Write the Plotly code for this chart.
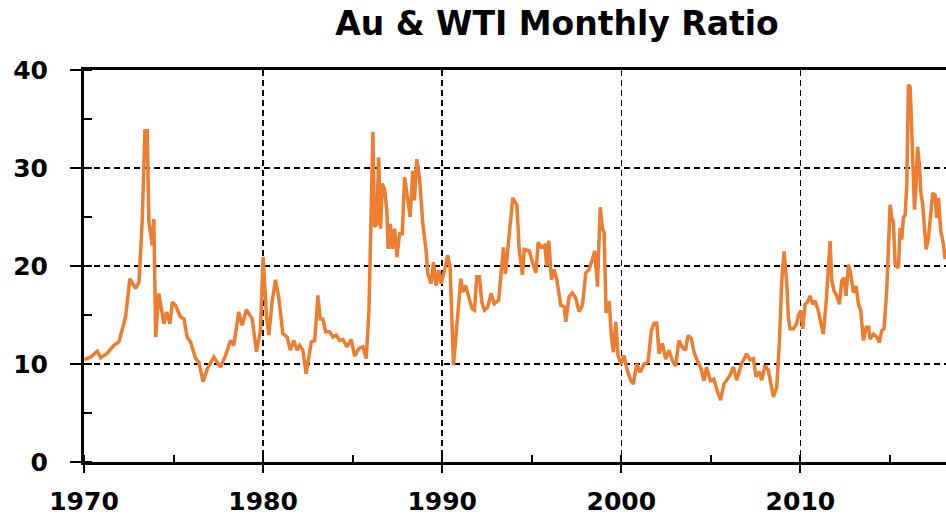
import plotly.graph_objects as go

# Decimal year and Au/WTI ratio
years = [
    1970.0, 1970.37, 1970.74, 1970.93, 1971.3, 1971.67, 1971.95, 1972.14, 1972.32, 1972.56,
    1972.88, 1973.07, 1973.25, 1973.4, 1973.53, 1973.62, 1973.81, 1973.9, 1974.0, 1974.18,
    1974.46, 1974.61, 1974.8, 1974.93, 1975.11, 1975.39, 1975.58, 1975.76, 1975.95, 1976.23,
    1976.41, 1976.65, 1976.88, 1977.25, 1977.62, 1977.9, 1978.18, 1978.36, 1978.64, 1978.83,
    1979.07, 1979.39, 1979.63, 1979.85, 1980.0, 1980.19, 1980.32, 1980.5, 1980.69, 1980.87,
    1981.1, 1981.34, 1981.52, 1981.71, 1981.9,
    1982.04, 1982.22, 1982.4, 1982.69, 1982.88, 1983.06, 1983.19, 1983.34, 1983.49, 1983.71,
    1983.9, 1984.08, 1984.27, 1984.46, 1984.68, 1984.92, 1985.11, 1985.35, 1985.57, 1985.76,
    1985.91, 1986.02, 1986.13, 1986.22, 1986.35, 1986.45, 1986.56, 1986.65, 1986.78, 1986.91,
    1986.98, 1987.1, 1987.21, 1987.34, 1987.47, 1987.62, 1987.77, 1987.9, 1988.03, 1988.21,
    1988.36, 1988.45, 1988.58, 1988.73, 1988.92, 1989.1, 1989.2, 1989.38, 1989.51, 1989.66,
    1989.81, 1989.94, 1990.13, 1990.31, 1990.44, 1990.55, 1990.63, 1990.78, 1990.93, 1991.04,
    1991.15, 1991.3, 1991.48, 1991.67, 1991.8, 1991.93, 1992.08, 1992.21, 1992.36, 1992.54,
    1992.73, 1992.91, 1993.15, 1993.29, 1993.42, 1993.53, 1993.66, 1993.79, 1993.94,
    1994.02, 1994.17, 1994.3, 1994.48, 1994.58, 1994.86, 1995.04, 1995.23, 1995.36, 1995.54,
    1995.73, 1995.84, 1995.95, 1996.1, 1996.25, 1996.4, 1996.62, 1996.81, 1996.9, 1997.09,
    1997.27, 1997.46, 1997.64, 1997.83, 1998.02, 1998.2, 1998.39, 1998.52, 1998.67, 1998.82,
    1998.95, 1999.04, 1999.15, 1999.32, 1999.45, 1999.56, 1999.69, 1999.82, 1999.97, 2000.15,
    2000.34, 2000.53, 2000.67, 2000.86, 2001.05, 2001.27, 2001.49, 2001.68, 2001.83, 2001.98,
    2002.11, 2002.29, 2002.48, 2002.66, 2002.85, 2003.03, 2003.22, 2003.41, 2003.59, 2003.72,
    2003.91, 2004.06, 2004.24, 2004.43, 2004.61, 2004.76, 2004.98, 2005.17, 2005.36, 2005.54,
    2005.73, 2005.9,
    2006.07, 2006.26, 2006.44, 2006.72, 2007.0, 2007.19, 2007.37, 2007.52, 2007.71, 2007.84,
    2008.03, 2008.21, 2008.4, 2008.49, 2008.68, 2008.83, 2008.96, 2009.09, 2009.24, 2009.33,
    2009.42, 2009.61, 2009.79, 2009.89, 2010.02, 2010.13, 2010.26, 2010.39, 2010.54, 2010.69,
    2010.82, 2011.0, 2011.13, 2011.28, 2011.43, 2011.56, 2011.66, 2011.75, 2011.88, 2012.03,
    2012.18, 2012.31, 2012.44, 2012.55, 2012.68, 2012.81, 2012.96, 2013.11, 2013.24, 2013.37,
    2013.52, 2013.67, 2013.8, 2013.89, 2014.08, 2014.26, 2014.41, 2014.54, 2014.67, 2014.82,
    2014.92, 2015.01, 2015.1, 2015.19, 2015.29, 2015.47, 2015.57, 2015.66, 2015.75, 2015.85,
    2015.94, 2016.03, 2016.13, 2016.22, 2016.31, 2016.37, 2016.46, 2016.54, 2016.65, 2016.72,
    2016.83, 2016.91, 2017.02, 2017.15, 2017.28, 2017.39, 2017.52, 2017.61, 2017.71, 2017.84,
    2017.99, 2018.08,
]

ratio = [
    10.45, 10.7, 11.3, 10.65, 11.1, 11.9, 12.25, 13.6, 14.8, 18.7,
    17.7, 18.35, 24.6, 33.8, 33.8, 24.6, 22.1, 24.8, 12.75, 17.2,
    14.1, 15.3, 14.1, 16.3, 16.0, 14.8, 14.6, 12.75, 12.25, 10.55,
    10.2, 8.2, 9.5, 10.7, 9.7, 10.85, 12.4, 11.9, 15.3, 13.95,
    15.55, 14.6, 11.25, 13.45, 20.9, 14.8, 12.95, 16.3, 18.6, 16.85,
    13.1, 12.75, 11.4, 12.4, 11.4,
    11.9, 11.4, 9.0, 12.25, 12.4, 17.0, 14.6, 14.6, 13.3, 13.3,
    12.75, 12.95, 12.4, 12.5, 11.75, 12.5, 10.8, 11.6, 11.75, 10.55,
    15.5, 24.6, 33.7, 24.0, 24.3, 31.1, 23.8, 28.4, 27.85, 25.65,
    21.75, 24.3, 21.75, 23.8, 20.9, 23.3, 23.3, 29.05, 27.5, 25.0,
    29.7, 26.7, 30.9, 29.05, 24.3, 21.6, 19.2, 18.2, 20.4, 18.0,
    19.55, 18.2, 19.55, 21.1, 19.9, 14.45, 9.9, 13.1, 16.85, 18.7,
    17.35, 18.0, 16.85, 15.65, 15.5, 18.9, 18.9, 16.3, 15.5, 15.8,
    17.2, 16.15, 16.5, 19.2, 21.9, 19.2, 21.6, 24.6, 26.95,
    26.7, 26.2, 21.7, 19.1, 21.7, 21.55, 20.35, 19.3, 22.4, 21.9,
    22.1, 20.0, 22.6, 18.6, 19.65, 18.6, 16.0, 15.85, 14.3, 16.9,
    17.25, 16.7, 15.35, 16.0, 19.3, 19.65, 20.7, 21.55, 17.9, 26.0,
    23.8, 23.45, 15.2, 16.4, 12.75, 11.2, 14.3, 10.85, 10.0, 10.85,
    9.3, 8.3, 7.95, 10.0, 9.15, 10.0, 10.2, 13.45, 14.15, 14.15,
    11.05, 12.1, 10.5, 11.4, 10.35, 9.8, 12.4, 11.7, 11.4, 12.9,
    12.6, 11.2, 10.35, 9.65, 8.3, 9.65, 8.3, 8.45, 7.25, 6.3,
    7.95, 8.45,
    8.85, 9.7, 8.35, 10.05, 11.05, 10.4, 10.55, 8.7, 9.2, 8.35,
    9.85, 9.35, 7.5, 6.65, 7.65, 12.4, 18.5, 21.5, 18.15, 14.75,
    13.6, 13.6, 14.1, 14.95, 15.45, 13.6, 16.1, 16.3, 16.95, 16.1,
    16.45, 15.45, 14.25, 13.05, 16.1, 19.15, 22.55, 18.5, 17.45, 16.95,
    16.1, 18.5, 18.8, 16.95, 20.15, 19.15, 17.3, 17.95, 16.1, 15.45,
    12.4, 13.75, 13.75, 12.55, 13.05, 12.75, 12.2, 13.4, 13.6, 17.45,
    23.2, 26.25, 24.9, 24.55, 20.15, 19.8, 23.9, 22.7, 24.9, 25.25,
    28.3, 38.5, 38.25, 32.7, 29.6, 25.75, 28.3, 32.15, 30.3, 27.6,
    26.25, 23.9, 21.7, 22.85, 25.75, 27.45, 27.25, 24.9, 26.95, 23.55,
    22.2, 20.7,
]

title_text = "Au & WTI Monthly Ratio"
x_range = [1970, 2018.13]
y_range = [0, 40]

tick_font = dict(family="DejaVu Sans", size=25, color="black", weight="bold")
grid_dash = "6px,4px"

fig = go.Figure()
fig.add_trace(go.Scatter(
    x=years, y=ratio, mode="lines",
    line=dict(color="#ED7D31", width=3.5),
    hoverinfo="skip",
))

fig.update_layout(
    width=946, height=520,
    margin=dict(l=84, r=0, t=70, b=57.5, autoexpand=False),
    paper_bgcolor="white", plot_bgcolor="white",
    showlegend=False,
    title=dict(
        text=title_text,
        font=dict(family="DejaVu Sans", size=33, color="black", weight="bold"),
        xref="paper", x=(557 - 84) / 862, xanchor="center",
        yref="container", y=0.955, yanchor="middle",
    ),
)

fig.update_xaxes(
    range=x_range, tick0=1970, dtick=10, automargin=False,
    ticks="outside", ticklen=8, tickwidth=2, tickcolor="black",
    showline=True, linewidth=3, linecolor="black", mirror=True,
    showgrid=True, gridcolor="black", gridwidth=1.5, griddash=grid_dash,
    zeroline=False,
    minor=dict(dtick=5, ticks="inside", ticklen=7, tickwidth=2, tickcolor="black", showgrid=False),
    tickfont=tick_font, ticklabelstandoff=7,
)

fig.update_yaxes(
    range=y_range, tick0=0, dtick=10, automargin=False,
    ticks="outside", ticklen=11, tickwidth=2, tickcolor="black",
    showline=True, linewidth=3, linecolor="black", mirror=False,
    showgrid=True, gridcolor="black", gridwidth=1.5, griddash=grid_dash,
    zeroline=False,
    minor=dict(dtick=5, ticks="inside", ticklen=8, tickwidth=2, tickcolor="black", showgrid=False),
    tickfont=tick_font, ticklabelstandoff=17,
)

fig.write_html(
    "out.html",
    config={"displayModeBar": False, "staticPlot": True},
    post_script="document.body.style.margin='0';document.body.style.overflow='hidden';",
)
